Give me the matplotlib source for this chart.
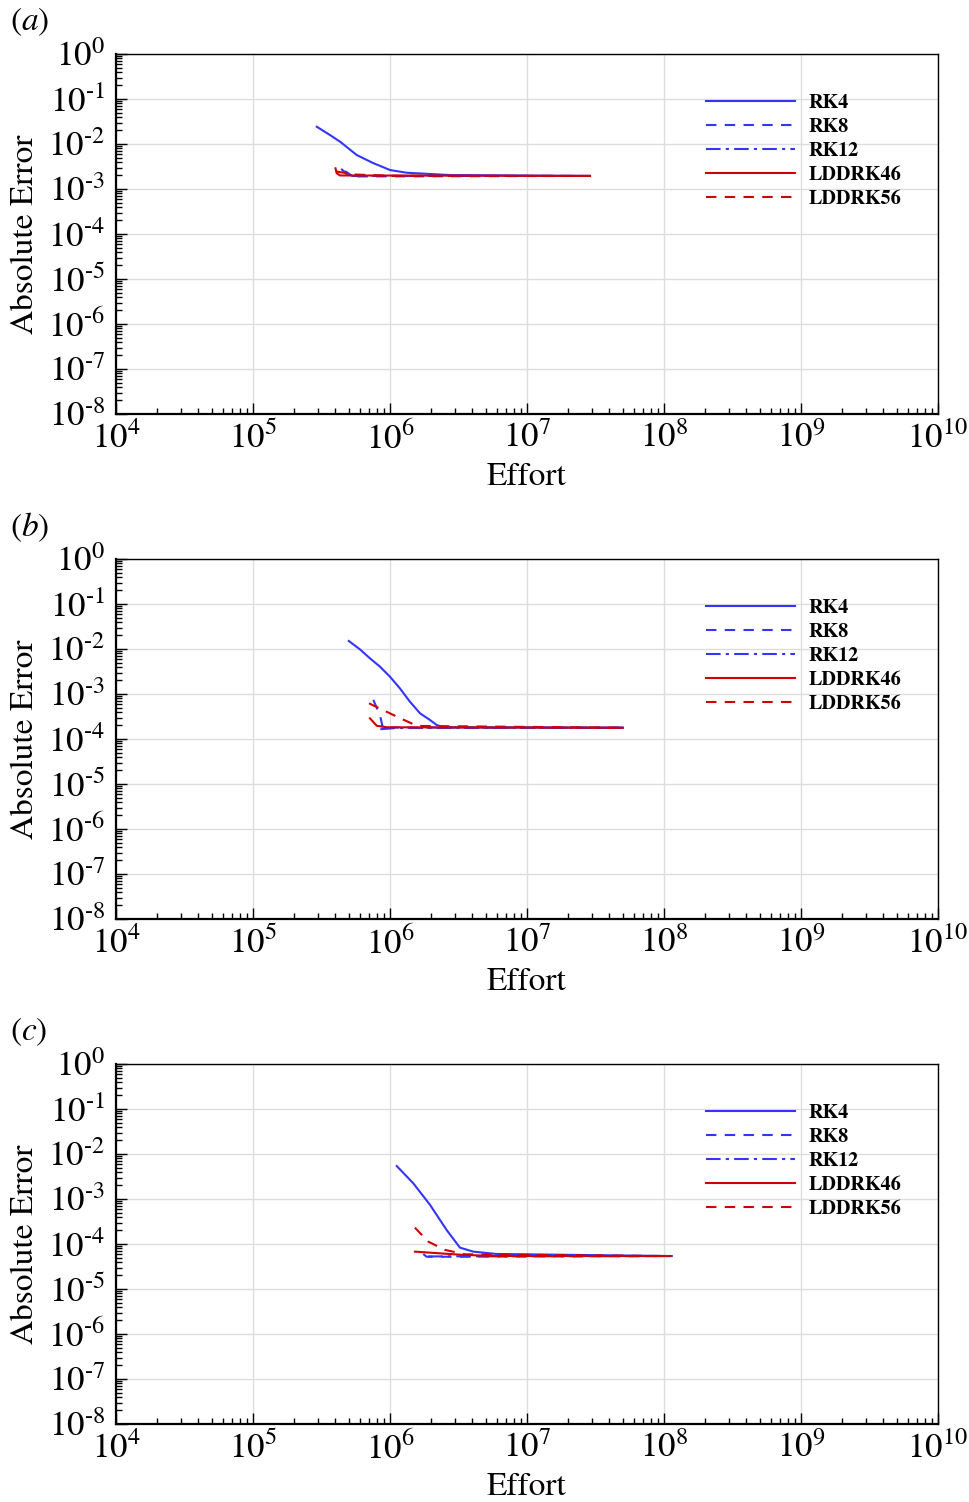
import matplotlib
matplotlib.use("Agg")
import matplotlib.pyplot as plt
import matplotlib.ticker as mticker
import numpy as np

plt.rcParams['font.family'] = ['STIXGeneral', 'DejaVu Serif']
plt.rcParams['mathtext.fontset'] = 'stix'
plt.rcParams['axes.unicode_minus'] = False

# ---- data (effort, absolute error) ----
# panel (a)
a_rk4_x = [2.92e5, 3.65e5, 4.32e5, 4.97e5, 5.71e5, 7.52e5, 1.0e6, 1.32e6, 2.75e6, 2.88e7]
a_rk4_y = [2.42e-2, 1.58e-2, 1.125e-2, 8.0e-3, 5.7e-3, 3.78e-3, 2.64e-3, 2.30e-3, 2.04e-3, 1.95e-3]
a_rk8_x = [4.4e5, 4.85e5, 5.35e5, 2.9e7]
a_rk8_y = [2.8e-3, 2.15e-3, 1.9e-3, 1.95e-3]
a_rk12_x = [4.7e5, 5.3e5, 2.9e7]
a_rk12_y = [2.5e-3, 1.95e-3, 1.95e-3]
a_ld46_x = [4.0e5, 4.08e5, 4.32e5, 2.88e7]
a_ld46_y = [2.88e-3, 2.24e-3, 2.0e-3, 1.95e-3]
a_ld56_x = [4.05e5, 5.5e5, 1.0e6, 2.85e7]
a_ld56_y = [2.45e-3, 2.1e-3, 1.97e-3, 1.95e-3]

# panel (b)
b_rk4_x = [5.0e5, 6.04e5, 7.14e5, 8.45e5, 1.0e6, 1.18e6, 1.40e6, 1.66e6, 1.96e6, 2.19e6, 2.45e6, 5.0e7]
b_rk4_y = [1.51e-2, 9.8e-3, 6.2e-3, 4.05e-3, 2.42e-3, 1.34e-3, 6.7e-4, 3.7e-4, 2.64e-4, 2.05e-4, 1.82e-4, 1.78e-4]
b_rk8_x = [7.55e5, 8.45e5, 8.93e5, 1.03e6, 5.0e7]
b_rk8_y = [7.4e-4, 3.4e-4, 1.6e-4, 1.8e-4, 1.78e-4]
b_rk12_x = [8.5e5, 1.1e6, 5.0e7]
b_rk12_y = [1.65e-4, 1.75e-4, 1.78e-4]
b_ld46_x = [7.14e5, 8.0e5, 9.5e5, 5.0e7]
b_ld46_y = [2.88e-4, 1.97e-4, 1.82e-4, 1.78e-4]
b_ld56_x = [7.03e5, 8.9e5, 1.17e6, 1.58e6, 5.0e7]
b_ld56_y = [6.2e-4, 4.4e-4, 2.95e-4, 1.95e-4, 1.78e-4]

# panel (c)
c_rk4_x = [1.12e6, 1.48e6, 1.96e6, 2.59e6, 3.24e6, 4.06e6, 6.0e6, 1.14e8]
c_rk4_y = [5.4e-3, 2.23e-3, 7.4e-4, 2.05e-4, 8.3e-5, 6.76e-5, 6.0e-5, 5.4e-5]
c_rk8_x = [1.75e6, 1.85e6, 1.1e8]
c_rk8_y = [6.0e-5, 5.2e-5, 5.4e-5]
c_rk12_x = [1.9e6, 1.1e8]
c_rk12_y = [5.3e-5, 5.4e-5]
c_ld46_x = [1.52e6, 3.34e6, 6.0e6, 1.1e8]
c_ld46_y = [6.76e-5, 5.75e-5, 5.4e-5, 5.4e-5]
c_ld56_x = [1.52e6, 1.9e6, 2.52e6, 3.52e6, 1.1e8]
c_ld56_y = [2.31e-4, 1.13e-4, 7.4e-5, 5.9e-5, 5.4e-5]

labels = ["RK4", "RK8", "RK12", "LDDRK46", "LDDRK56"]
panels = [
    ("a", [(a_rk4_x, a_rk4_y), (a_rk8_x, a_rk8_y), (a_rk12_x, a_rk12_y),
           (a_ld46_x, a_ld46_y), (a_ld56_x, a_ld56_y)]),
    ("b", [(b_rk4_x, b_rk4_y), (b_rk8_x, b_rk8_y), (b_rk12_x, b_rk12_y),
           (b_ld46_x, b_ld46_y), (b_ld56_x, b_ld56_y)]),
    ("c", [(c_rk4_x, c_rk4_y), (c_rk8_x, c_rk8_y), (c_rk12_x, c_rk12_y),
           (c_ld46_x, c_ld46_y), (c_ld56_x, c_ld56_y)]),
]

blue = "#3434ff"
red = "#d00000"
styles = [
    dict(color=blue, ls="-"),
    dict(color=blue, ls=(0, (5, 4))),
    dict(color=blue, ls=(0, (7, 2.5, 1.5, 2.5))),
    dict(color=red, ls="-"),
    dict(color=red, ls=(0, (5, 4))),
]


def pow10(v, pos):
    e = int(round(np.log10(v)))
    if e < 0:
        return r"$10^{\text{-}%d}$" % (-e)
    return r"$10^{%d}$" % e


W, H = 969, 1502
fig = plt.figure(figsize=(W / 100, H / 100), dpi=100)

tops = [54, 559, 1064]
for (tag, series), top in zip(panels, tops):
    ax = fig.add_axes([116 / W, 1 - (top + 360) / H, 822 / W, 360 / H])
    for (x, y), lab, st in zip(series, labels, styles):
        ax.plot(x, y, lw=1.5, label=lab, **st)
    ax.set_xscale("log")
    ax.set_yscale("log")
    ax.set_xlim(1e4, 1e10)
    ax.set_ylim(1e-8, 1e0)
    ax.xaxis.set_major_locator(mticker.LogLocator(base=10, numticks=20))
    ax.yaxis.set_major_locator(mticker.LogLocator(base=10, numticks=20))
    ax.xaxis.set_minor_locator(mticker.LogLocator(base=10, subs=np.arange(2, 10), numticks=100))
    ax.yaxis.set_minor_locator(mticker.LogLocator(base=10, subs=np.arange(2, 10), numticks=100))
    ax.xaxis.set_major_formatter(mticker.FuncFormatter(pow10))
    ax.yaxis.set_major_formatter(mticker.FuncFormatter(pow10))
    ax.xaxis.set_minor_formatter(mticker.NullFormatter())
    ax.yaxis.set_minor_formatter(mticker.NullFormatter())
    ax.tick_params(which="both", direction="in", top=False, right=False, labelsize=25, width=1)
    ax.tick_params(which="major", length=8)
    ax.tick_params(which="minor", length=4)
    ax.tick_params(axis="y", pad=8)
    ax.tick_params(axis="x", pad=6)
    ax.grid(True, which="major", color="#dddddd", lw=1)
    ax.set_axisbelow(True)
    for s in ["left", "bottom"]:
        ax.spines[s].set_linewidth(1.6)
    for s in ["top", "right"]:
        ax.spines[s].set_linewidth(1.0)
    ax.set_xlabel("Effort", fontsize=24, labelpad=4)
    ax.set_ylabel("Absolute Error", fontsize=24)
    ax.yaxis.set_label_coords(-0.092, 0.5)
    ax.legend(loc="upper left", bbox_to_anchor=(0.7178, 0.89), frameon=False,
              borderpad=0, borderaxespad=0, handlelength=4.4, handletextpad=0.7,
              labelspacing=0.3, prop=dict(family="STIXGeneral", weight="bold", size=14.5))
    fig.text(10 / W, 1 - (top - 32) / H, r"($\mathit{%s}$)" % tag, fontsize=24, va="center", ha="left")

fig.savefig("out.png", dpi=100)
